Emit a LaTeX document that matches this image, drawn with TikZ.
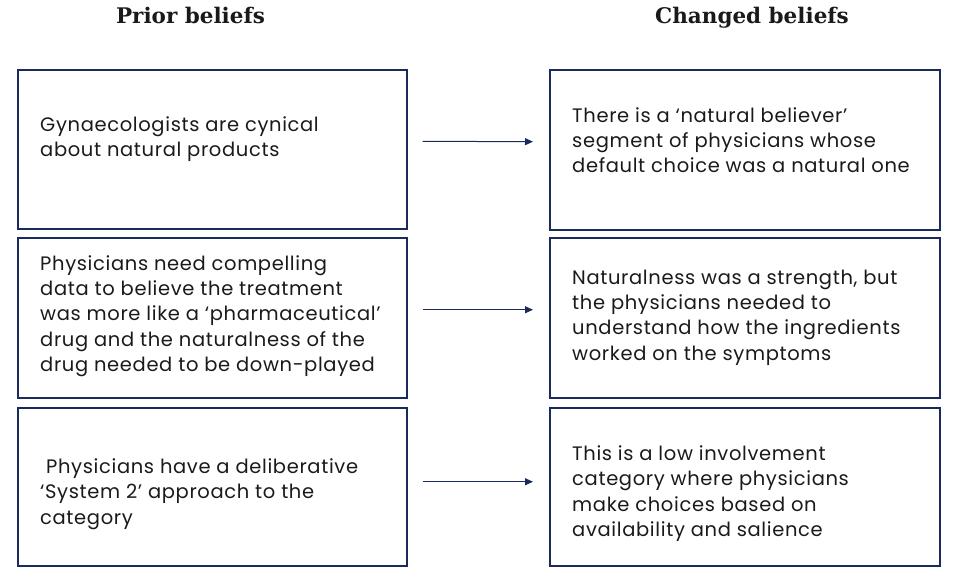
\documentclass[tikz,border=0pt]{standalone}
\usepackage{fontspec}
\setmainfont{Poppins}
\newfontfamily\bodyfont{Poppins}[LetterSpace=3.3]
\newfontfamily\titlefont{DejaVu Serif}
\usetikzlibrary{arrows.meta}
\definecolor{navy}{HTML}{1B2A5C}
\definecolor{textcol}{HTML}{1A1A1A}
\tikzset{
  box/.style={draw=navy, line width=1.5pt, anchor=north west, inner sep=0pt, minimum width=389pt},
  rbox/.style={box, minimum width=390pt},
  txt/.style={anchor=west, align=left, inner sep=0pt, text=textcol, font=\bodyfont\fontsize{19.5}{25.3}\selectfont},
  ttl/.style={anchor=base, inner sep=0pt, text=textcol, font=\titlefont\bfseries\fontsize{21.5}{25}\selectfont},
  arr/.style={draw=navy, line width=1pt, -{Triangle[length=8pt,width=7pt]}}
}
\begin{document}
\begin{tikzpicture}[x=1pt,y=-1pt]
\useasboundingbox (0,0) rectangle (980,579);
\node[ttl] (tp) at (190.5,23) {Prior beliefs};
\node[ttl] (tc) at (752,23) {Changed beliefs};

\node[box, minimum height=159pt] (p1) at (17,69) {};
\node[box, minimum height=160pt] (p2) at (17,237) {};
\node[box, minimum height=158pt] (p3) at (17,407) {};
\node[rbox, minimum height=160pt] (c1) at (549,69) {};
\node[rbox, minimum height=160pt] (c2) at (549,237) {};
\node[rbox, minimum height=158pt] (c3) at (549,407) {};

\node[txt] (tp1) at (40,139) {Gynaecologists are cynical\\about natural products};
\node[txt] (tp2) at (40,316) {Physicians need compelling\\data to believe the treatment\\was more like a ‘pharmaceutical’\\drug and the naturalness of the\\drug needed to be down-played};
\node[txt] (tp3) at (40,494) {\hspace*{6pt}Physicians have a deliberative\\‘System 2’ approach to the\\category};
\node[txt] (tc1) at (572,140) {There is a ‘natural believer’\\segment of physicians whose\\default choice was a natural one};
\node[txt] (tc2) at (572,317.5) {Naturalness was a strength, but\\the physicians needed to\\understand how the ingredients\\worked on the symptoms};
\node[txt] (tc3) at (572,493.5) {This is a low involvement\\category where physicians\\make choices based on\\availability and salience};

\draw[arr, shorten <=15pt, shorten >=16pt] ([yshift=8pt]p1.east) -- ([yshift=8pt]c1.west);
\draw[arr, shorten <=15pt, shorten >=16pt] ([yshift=8pt]p2.east) -- ([yshift=8pt]c2.west);
\draw[arr, shorten <=15pt, shorten >=16pt] ([yshift=5pt]p3.east) -- ([yshift=5pt]c3.west);
\end{tikzpicture}
\end{document}
